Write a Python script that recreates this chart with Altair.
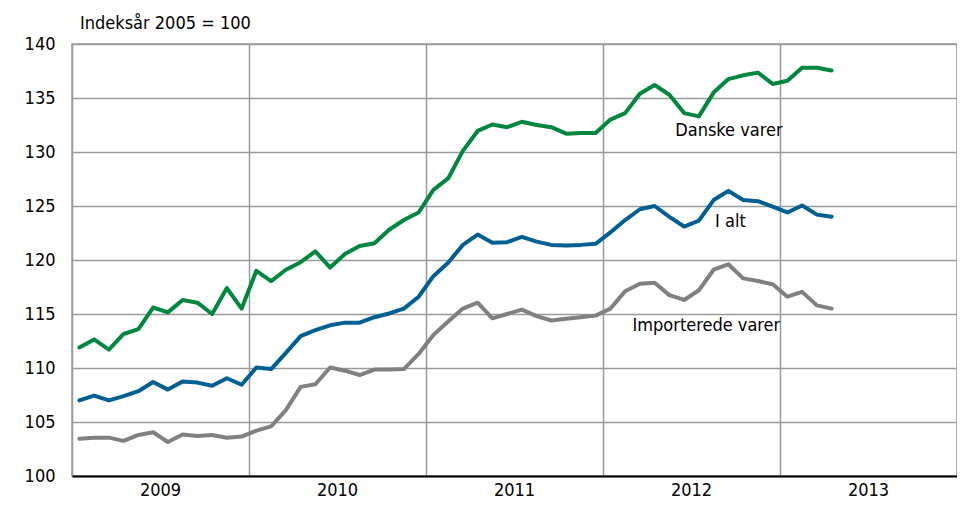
import altair as alt
import pandas as pd

# Monthly index values, Jan 2009 - Apr 2013 (Indeksår 2005 = 100)
months = list(range(52))
danske_varer = [111.9, 112.65, 111.7, 113.15, 113.6, 115.6, 115.15, 116.3, 116.05, 115.0, 117.4, 115.5,
                119.0, 118.05, 119.1, 119.8, 120.8, 119.3, 120.55, 121.3, 121.55, 122.8, 123.7, 124.4,
                126.5, 127.55, 130.1, 131.95, 132.55, 132.3, 132.8, 132.5, 132.3, 131.7, 131.75, 131.75,
                133.0, 133.6, 135.4, 136.2, 135.3, 133.6, 133.3, 135.5, 136.75, 137.1, 137.35, 136.3,
                136.6, 137.8, 137.8, 137.55]
i_alt = [107.0, 107.45, 107.0, 107.4, 107.85, 108.7, 108.0, 108.75, 108.65, 108.35, 109.05, 108.45,
         110.05, 109.9, 111.4, 112.95, 113.5, 113.95, 114.2, 114.2, 114.7, 115.05, 115.5, 116.6,
         118.5, 119.75, 121.4, 122.35, 121.6, 121.65, 122.15, 121.7, 121.4, 121.35, 121.4, 121.5,
         122.55, 123.7, 124.7, 125.0, 124.0, 123.1, 123.65, 125.55, 126.4, 125.55, 125.45, 124.95,
         124.4, 125.05, 124.2, 124.0]
importerede_varer = [103.45, 103.55, 103.55, 103.25, 103.8, 104.05, 103.15, 103.85, 103.7, 103.8, 103.55, 103.65,
                     104.2, 104.6, 106.1, 108.25, 108.5, 110.05, 109.75, 109.35, 109.85, 109.85, 109.9, 111.3,
                     113.05, 114.3, 115.5, 116.05, 114.6, 115.0, 115.4, 114.8, 114.4, 114.55, 114.7, 114.85,
                     115.5, 117.1, 117.8, 117.9, 116.75, 116.3, 117.2, 119.1, 119.6, 118.3, 118.05, 117.75,
                     116.6, 117.05, 115.8, 115.5]

series_names = ["Danske varer", "I alt", "Importerede varer"]
series_colors = ["#00873F", "#005F92", "#808080"]

years = ["2009", "2010", "2011", "2012", "2013"]
year_centers = [6, 18, 30, 42, 54]

label_text = ["Danske varer", "I alt", "Importerede varer"]
label_x = [40.9, 43.6, 38.0]
label_y = [131.9, 123.5, 113.9]

FONT = "Liberation Sans Narrow, DejaVu Sans Condensed, Roboto Condensed, Roboto, sans-serif"

rows = []
for name, vals in zip(series_names, [danske_varer, i_alt, importerede_varer]):
    for m, v in zip(months, vals):
        rows.append({"m": m + 0.5, "v": v, "serie": name})
df = pd.DataFrame(rows)

x_scale = alt.Scale(domain=[0, 60], nice=False, zero=False)
y_scale = alt.Scale(domain=[100, 140], nice=False, zero=False)

lines = alt.Chart(df).mark_line(strokeWidth=4, strokeJoin="round", strokeCap="round").encode(
    x=alt.X("m:Q", scale=x_scale,
            axis=alt.Axis(values=[0, 12, 24, 36, 48, 60], labels=False, ticks=False, title=None,
                          grid=True, gridColor="#9a9a9a", gridWidth=1.5,
                          domain=True, domainColor="#000000", domainWidth=2)),
    y=alt.Y("v:Q", scale=y_scale,
            axis=alt.Axis(values=[100, 105, 110, 115, 120, 125, 130, 135, 140], ticks=False, title=None,
                          grid=True, gridColor="#9a9a9a", gridWidth=1.5, domain=False,
                          labelFont=FONT, labelFontSize=18, labelColor="#000000", labelPadding=17)),
    color=alt.Color("serie:N", scale=alt.Scale(domain=series_names, range=series_colors), legend=None),
)

ydf = pd.DataFrame({"year": years, "c": year_centers})
year_labels = alt.Chart(ydf).mark_text(font=FONT, fontSize=18, color="#000000", baseline="alphabetic").encode(
    x=alt.X("c:Q", scale=x_scale), y=alt.value(452), text="year:N"
)

ldf = pd.DataFrame({"t": label_text, "x": label_x, "y": label_y})
labels = alt.Chart(ldf).mark_text(font=FONT, fontSize=18, color="#000000", align="left", baseline="middle").encode(
    x=alt.X("x:Q", scale=x_scale), y=alt.Y("y:Q", scale=y_scale), text="t:N"
)

title = alt.Chart(pd.DataFrame({"t": ["Indeksår 2005 = 100"]})).mark_text(
    font=FONT, fontSize=18, color="#000000", align="left", baseline="middle"
).encode(x=alt.value(8), y=alt.value(-20), text="t:N")

chart = alt.layer(lines, year_labels, labels, title).properties(
    width=885, height=432,
    autosize=alt.AutoSizeParams(type="none"),
    padding={"left": 64, "top": 36, "right": 0, "bottom": 27},
).configure_view(stroke="#9a9a9a", strokeWidth=1.5)

chart.save("out.html", embed_options={"renderer": "svg", "actions": False})
